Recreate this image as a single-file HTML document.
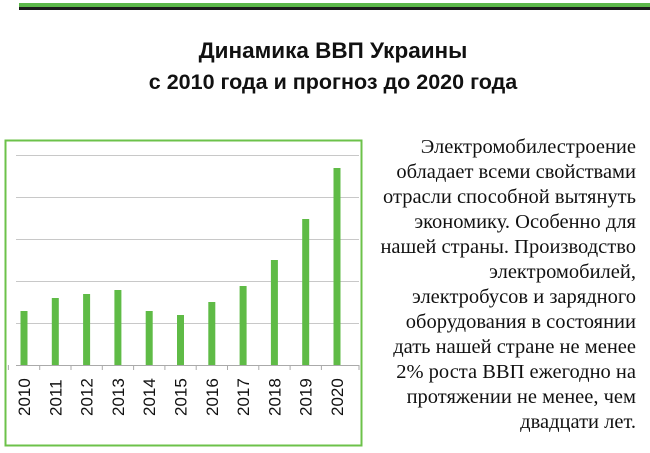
<!DOCTYPE html>
<html><head><meta charset="utf-8"><style>
body{margin:0;width:650px;height:453px;background:#fff;position:relative;overflow:hidden}
.t{position:absolute;left:0;width:666px;text-align:center;font:bold 21.5px "Liberation Sans",sans-serif;color:#111}
.p{position:absolute;right:14px;top:135px;width:320px;text-align:right;font:20.5px/25px "Liberation Serif",serif;color:#111}
</style></head><body>
<div style="position:absolute;left:19px;top:3px;width:631px;height:4px;background:#5cb84a"></div>
<div style="position:absolute;left:19px;top:7px;width:631px;height:3px;background:#1a1a1a"></div>
<div class="t" style="top:38px;font-size:22.5px">Динамика ВВП Украины</div>
<div class="t" style="top:70px">с 2010 года и прогноз до 2020 года</div>
<svg style="position:absolute;left:0;top:0" width="650" height="453">
<rect x="5.5" y="140.5" width="356" height="305" fill="none" stroke="#6cc24a" stroke-width="2"/>
<g stroke="#c8c8c8" stroke-width="1">
<line x1="16" x2="359" y1="155.5" y2="155.5"/><line x1="16" x2="359" y1="197.5" y2="197.5"/>
<line x1="16" x2="359" y1="239.5" y2="239.5"/><line x1="16" x2="359" y1="281.5" y2="281.5"/>
<line x1="16" x2="359" y1="323.5" y2="323.5"/></g>
<line x1="16" x2="359" y1="365.5" y2="365.5" stroke="#aaa"/>
<g fill="#5fbb46" id="b"></g>
<g font-family="Liberation Sans" font-size="17" fill="#111" id="l"></g>
<g stroke="#aaa" id="tk"></g>
</svg>
<div class="p">Электромобилестроение<br>обладает всеми свойствами<br>отрасли способной вытянуть<br>экономику. Особенно для<br>нашей страны. Производство<br>электромобилей,<br>электробусов и зарядного<br>оборудования в состоянии<br>дать нашей стране не менее<br>2% роста ВВП ежегодно на<br>протяжении не менее, чем<br>двадцати лет.</div>
<script>
var tops=[311,298,294,290,311,315,302,286,260,219,168],b="",l="",t="";
for(var i=0;i<11;i++){var c=24+i*31.3;
b+='<rect x="'+(c-3.5)+'" y="'+tops[i]+'" width="7" height="'+(365-tops[i])+'"/>';
l+='<text transform="translate('+(c+6)+',416) rotate(-90)">'+(2010+i)+'</text>';
t+='<line x1="'+(c-15.6)+'" x2="'+(c-15.6)+'" y1="365" y2="370"/>';}
t+='<line x1="359" x2="359" y1="365" y2="370"/>';
document.getElementById('b').innerHTML=b;document.getElementById('l').innerHTML=l;document.getElementById('tk').innerHTML=t;
</script>
</body></html>
